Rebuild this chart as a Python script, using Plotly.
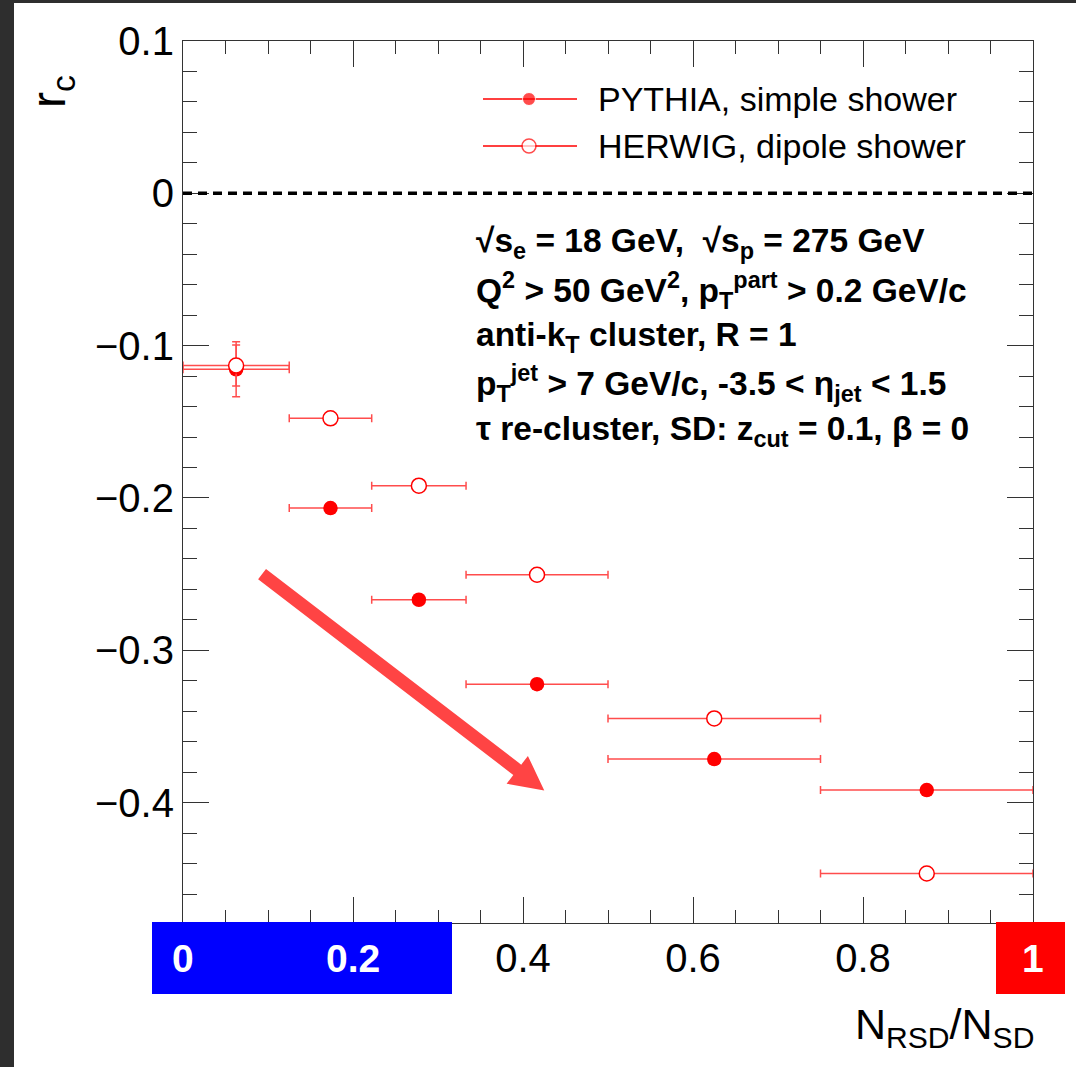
import plotly.graph_objects as go
import math

# ---------------- data ----------------
bin_lo = [0.0, 0.125, 0.222, 0.333, 0.5, 0.75]
bin_hi = [0.125, 0.222, 0.333, 0.5, 0.75, 1.0]
pythia_rc = [-0.1155, -0.2066, -0.2668, -0.3222, -0.3714, -0.3917]
pythia_err = [0.018, 0.0, 0.0, 0.0, 0.0, 0.0]
herwig_rc = [-0.1130, -0.1477, -0.1919, -0.2504, -0.3447, -0.4465]
herwig_err = [0.0135, 0.0, 0.0, 0.0, 0.0, 0.0]
legend_names = ["PYTHIA, simple shower", "HERWIG, dipole shower"]
x_tickvals = [0.0, 0.2, 0.4, 0.6, 0.8, 1.0]
x_ticktext = ["", "", "0.4", "0.6", "0.8", ""]
y_tickvals = [0.1, 0.0, -0.1, -0.2, -0.3, -0.4]
y_ticktext = ["0.1", "0", "\u22120.1", "\u22120.2", "\u22120.3", "\u22120.4"]
info_lines = [
    "<b>\u221as<sub>e</sub> = 18 GeV,  \u221as<sub>p</sub> = 275 GeV</b>",
    "<b>Q<sup>2</sup> &gt; 50 GeV<sup>2</sup>, p<sub>T</sub><sup>part</sup> &gt; 0.2 GeV/c</b>",
    "<b>anti-k<sub>T</sub> cluster, R = 1</b>",
    "<b>p<sub>T</sub><sup>jet</sup> &gt; 7 GeV/c, -3.5 &lt; \u03b7<sub>jet</sub> &lt; 1.5</b>",
    "<b>\u03c4 re-cluster, SD: z<sub>cut</sub> = 0.1, \u03b2 = 0</b>",
]
arrow_tail = (0.093, -0.250)
arrow_tip = (0.425, -0.392)

# ---------------- geometry ----------------
W, H = 1076, 1067
ML, MR, MT, MB = 183, 43, 41, 144
PW, PH = W - ML - MR, H - MT - MB
XR = [0.0, 1.0]
YR = [-0.479, 0.1]
FONT = "Liberation Sans, Arial, Helvetica, sans-serif"
RED = "#ff0000"
ERR = "#ff4d4d"


def pxx(px):
    return (px - ML) / PW


def pyy(py):
    return (H - MB - py) / PH


def d2p(x, y):
    return (ML + (x - XR[0]) / (XR[1] - XR[0]) * PW,
            MT + (YR[1] - y) / (YR[1] - YR[0]) * PH)


def p2d(px, py):
    return (XR[0] + (px - ML) / PW * (XR[1] - XR[0]),
            YR[1] - (py - MT) / PH * (YR[1] - YR[0]))


xc = [(a + b) / 2 for a, b in zip(bin_lo, bin_hi)]
xe = [(b - a) / 2 for a, b in zip(bin_lo, bin_hi)]

fig = go.Figure()

fig.add_trace(go.Scatter(
    x=xc, y=pythia_rc, mode="markers", name=legend_names[0], showlegend=False,
    marker=dict(symbol="circle", size=14.5, color=RED),
    error_x=dict(type="data", array=xe, color=ERR, thickness=1.5, width=4),
    error_y=dict(type="data", array=pythia_err, color=ERR, thickness=1.5, width=4),
))
fig.add_trace(go.Scatter(
    x=xc, y=herwig_rc, mode="markers", name=legend_names[1], showlegend=False,
    marker=dict(symbol="circle", size=15, color="white", line=dict(color=RED, width=1.5)),
    error_x=dict(type="data", array=xe, color=ERR, thickness=1.5, width=4),
    error_y=dict(type="data", array=herwig_err, color=ERR, thickness=1.5, width=4),
))

# manual legend on an overlay axis spanning the plot area in paper units
leg_y = [pyy(99), pyy(146)]
for i, (name, mk) in enumerate(zip(legend_names, [
        dict(symbol="circle", size=[0, 13, 0], color=RED),
        dict(symbol="circle", size=[0, 14, 0], color="white", line=dict(color=RED, width=1.5))])):
    fig.add_trace(go.Scatter(
        x=[pxx(483), pxx(529), pxx(577)], y=[leg_y[i]] * 3, mode="lines+markers",
        xaxis="x2", yaxis="y2", showlegend=False, hoverinfo="skip",
        line=dict(color=RED, width=1.5), marker=mk,
    ))

annotations = []
for i, name in enumerate(legend_names):
    annotations.append(dict(xref="paper", yref="paper", x=pxx(596), y=leg_y[i],
                            xanchor="left", yanchor="middle", showarrow=False,
                            text=name, font=dict(family=FONT, size=34, color="black")))

info_y = [243, 290, 337, 384, 431]
for txt, py in zip(info_lines, info_y):
    annotations.append(dict(xref="paper", yref="paper", x=pxx(474), y=pyy(py),
                            xanchor="left", yanchor="middle", showarrow=False,
                            text=txt, font=dict(family=FONT, size=33.5, color="black")))

# axis titles
annotations.append(dict(xref="paper", yref="paper", x=pxx(1036), y=pyy(1027),
                        xanchor="right", yanchor="middle", showarrow=False,
                        text="N<sub>RSD</sub>/N<sub>SD</sub>",
                        font=dict(family=FONT, size=43, color="black")))
annotations.append(dict(xref="paper", yref="paper", x=pxx(52), y=pyy(92),
                        xanchor="center", yanchor="middle", showarrow=False, textangle=-90,
                        text="r<sub>c</sub>",
                        font=dict(family=FONT, size=48, color="black")))

# boxed tick labels
for xv, txt in [(0.0, "0"), (0.2, "0.2"), (1.0, "1")]:
    annotations.append(dict(xref="x", yref="paper", x=xv, y=pyy(958),
                            xanchor="center", yanchor="middle", showarrow=False,
                            text="<b>" + txt + "</b>",
                            font=dict(family=FONT, size=39, color="white")))

shapes = []
# dark frame strips
shapes.append(dict(type="rect", xref="paper", yref="paper", x0=pxx(0), x1=pxx(14),
                   y0=pyy(0), y1=pyy(H), fillcolor="#2e2e2e", line=dict(width=0), layer="below"))
shapes.append(dict(type="rect", xref="paper", yref="paper", x0=pxx(0), x1=pxx(W),
                   y0=pyy(0), y1=pyy(3), fillcolor="#2e2e2e", line=dict(width=0), layer="below"))
# colored label boxes
shapes.append(dict(type="rect", xref="paper", yref="paper", x0=pxx(152), x1=pxx(452),
                   y0=pyy(922), y1=pyy(994), fillcolor="#0000ff", line=dict(width=0), layer="above"))
shapes.append(dict(type="rect", xref="paper", yref="paper", x0=pxx(996), x1=pxx(1065),
                   y0=pyy(922), y1=pyy(994), fillcolor="#ff0000", line=dict(width=0), layer="above"))
# zero line
shapes.append(dict(type="line", xref="paper", yref="y", x0=0, x1=1, y0=0, y1=0,
                   line=dict(color="black", width=3.5, dash="9px,6px")))

# arrow polygon computed from tail / tip
tx, ty = d2p(*arrow_tail)
hx, hy = d2p(*arrow_tip)
L = math.hypot(hx - tx, hy - ty)
ux, uy = (hx - tx) / L, (hy - ty) / L
nx, ny = -uy, ux
sw, hl, hw = 6.5, 34.0, 17.5
bx, by = hx - ux * hl, hy - uy * hl
pts_px = [(tx + nx * sw, ty + ny * sw), (bx + nx * sw, by + ny * sw), (bx + nx * hw, by + ny * hw),
          (hx, hy), (bx - nx * hw, by - ny * hw), (bx - nx * sw, by - ny * sw),
          (tx - nx * sw, ty - ny * sw)]
pts = [p2d(a, b) for a, b in pts_px]
path = "M " + " L ".join(f"{a:.5f},{b:.5f}" for a, b in pts) + " Z"
shapes.append(dict(type="path", xref="x", yref="y", path=path,
                   fillcolor="#ff4444", line=dict(width=0), layer="above"))

axis_common = dict(showgrid=False, zeroline=False, showline=True, linecolor="#333333",
                   linewidth=1.2, ticks="inside", tickcolor="#333333", tickwidth=1.2,
                   mirror="allticks", tickfont=dict(family=FONT, size=40, color="black"))

fig.update_layout(
    width=W, height=H, margin=dict(l=ML, r=MR, t=MT, b=MB, pad=0),
    paper_bgcolor="white", plot_bgcolor="white", showlegend=False,
    xaxis=dict(range=XR, tickvals=x_tickvals, ticktext=x_ticktext, ticklen=26,
               minor=dict(dtick=0.05, tick0=0, ticks="inside", ticklen=13,
                          tickcolor="#333333", tickwidth=1.2),
               **axis_common),
    yaxis=dict(range=YR, tickvals=y_tickvals, ticktext=y_ticktext, ticklen=26,
               minor=dict(dtick=0.02, tick0=0, ticks="inside", ticklen=14,
                          tickcolor="#333333", tickwidth=1.2),
               **axis_common),
    xaxis2=dict(range=[0, 1], overlaying="x", visible=False, fixedrange=True),
    yaxis2=dict(range=[0, 1], overlaying="y", visible=False, fixedrange=True),
    annotations=annotations, shapes=shapes,
)

fig.write_html("out.html")
